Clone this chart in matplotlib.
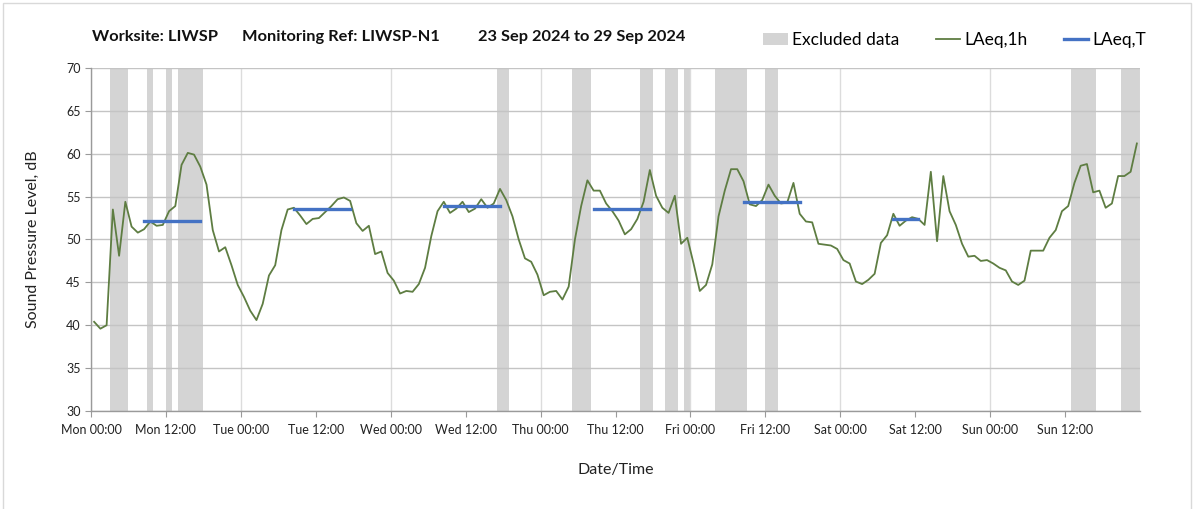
import numpy as np
import matplotlib
matplotlib.use('Agg')
import matplotlib.pyplot as plt
from matplotlib.patches import Patch, Rectangle
from matplotlib.lines import Line2D

plt.rcParams['font.family'] = ['Lato', 'DejaVu Sans']

# 시간별 LAeq,1h (월 00:00 부터 168 시간)
laeq_1h = [
    # Mon
    40.4, 39.6, 40.0, 53.5, 48.1, 54.4, 51.5, 50.8, 51.2, 52.1, 51.6, 51.7,
    53.3, 53.9, 58.7, 60.1, 59.9, 58.5, 56.4, 51.1, 48.6, 49.1, 47.0, 44.7,
    # Tue
    43.3, 41.7, 40.6, 42.5, 45.8, 47.0, 51.1, 53.5, 53.7, 52.8, 51.8, 52.4,
    52.5, 53.2, 53.9, 54.7, 54.9, 54.5, 51.9, 51.0, 51.6, 48.3, 48.6, 46.1,
    # Wed
    45.2, 43.7, 44.0, 43.9, 44.8, 46.7, 50.4, 53.3, 54.4, 53.1, 53.6, 54.4,
    53.2, 53.6, 54.7, 53.7, 54.2, 55.9, 54.6, 52.7, 50.0, 47.8, 47.4, 45.9,
    # Thu
    43.5, 43.9, 44.0, 43.0, 44.5, 50.0, 53.9, 56.9, 55.7, 55.7, 54.2, 53.3,
    52.2, 50.6, 51.2, 52.4, 54.4, 58.1, 55.1, 53.7, 53.1, 55.1, 49.5, 50.2,
    # Fri
    47.2, 44.0, 44.7, 47.1, 52.7, 55.7, 58.2, 58.2, 56.8, 54.1, 53.9, 54.6,
    56.4, 55.1, 54.2, 54.3, 56.6, 53.0, 52.1, 52.0, 49.5, 49.4, 49.3, 48.9,
    # Sat
    47.6, 47.2, 45.1, 44.8, 45.3, 46.0, 49.6, 50.5, 53.0, 51.6, 52.2, 52.6,
    52.4, 51.7, 57.9, 49.8, 57.4, 53.3, 51.7, 49.5, 48.0, 48.1, 47.5, 47.6,
    # Sun
    47.2, 46.7, 46.4, 45.1, 44.7, 45.2, 48.7, 48.7, 48.7, 50.2, 51.1, 53.3,
    53.9, 56.6, 58.6, 58.8, 55.5, 55.7, 53.7, 54.2, 57.4, 57.4, 57.9, 61.2,
]

# LAeq,T (주간 구간: 시작 시간, 끝 시간, 값)
laeq_t_start = [8, 32, 56, 80, 104, 128]
laeq_t_end = [17, 41, 65, 89, 113, 132]
laeq_t_value = [52.2, 53.5, 53.9, 53.5, 54.4, 52.4]

# 제외 구간 (시작 시간, 끝 시간)
excl_start = [3, 9, 12, 14, 65, 77, 88, 92, 95, 100, 108, 157, 165]
excl_end = [6, 10, 13, 18, 67, 80, 90, 94, 96, 105, 110, 161, 168]

days = ['Mon', 'Tue', 'Wed', 'Thu', 'Fri', 'Sat', 'Sun']
tick_labels = [f'{d} {t}' for d in days for t in ['00:00', '12:00']]

title_parts = ['Worksite: LIWSP', 'Monitoring Ref: LIWSP-N1', '23 Sep 2024 to 29 Sep 2024']

hours = np.arange(len(laeq_1h)) + 0.5

green = '#5e7d42'
blue = '#4472c4'
grey_band = '#d4d4d4'

fig = plt.figure(figsize=(12.03, 5.09), dpi=100)
ax = fig.add_axes([91/1203, 1 - 411/509, (1140 - 91)/1203, (411 - 68)/509])

# 제외 구간
for s, e in zip(excl_start, excl_end):
    ax.axvspan(s, e, color=grey_band, lw=0, zorder=0.2)

ax.plot(hours, laeq_1h, color=green, lw=1.3, zorder=3)

for s, e, v in zip(laeq_t_start, laeq_t_end, laeq_t_value):
    ax.plot([s + 0.5, e + 0.5], [v, v], color=blue, lw=2.4, zorder=4)

ax.set_xlim(0, 168)
ax.set_ylim(30, 70)
ax.set_yticks(np.arange(30, 71, 5))
ax.set_xticks(np.arange(0, 168, 12))
ax.set_xticklabels(tick_labels)
ax.set_axisbelow(True)

# 격자
ax.yaxis.grid(True, color='#c4c4c4', lw=1.0)
for x in range(0, 169, 24):
    ax.axvline(x, color='#dcdcdc', lw=1.0, zorder=0.5)

for side in ['top', 'right']:
    ax.spines[side].set_visible(False)
for side in ['left', 'bottom']:
    ax.spines[side].set_color('#9a9a9a')
    ax.spines[side].set_linewidth(1.0)

ax.tick_params(axis='both', direction='out', length=4, color='#9a9a9a',
               labelsize=9, labelcolor='#222222')
ax.tick_params(axis='x', pad=5)

ax.set_ylabel('Sound Pressure Level, dB', fontsize=11.5, color='#222222', labelpad=19)
ax.set_xlabel('Date/Time', fontsize=11.5, color='#222222', labelpad=20)

# 제목 (세 부분)
for px, txt in zip([92, 242, 478], title_parts):
    fig.text(px/1203, 1 - 37/509, txt, fontsize=11.8, fontweight='bold',
             ha='left', va='center', color='#111111')

handles = [Patch(facecolor=grey_band, edgecolor='none', label='Excluded data'),
           Line2D([], [], color=green, lw=1.3, label='LAeq,1h'),
           Line2D([], [], color=blue, lw=2.4, label='LAeq,T')]
fig.legend(handles=handles, loc='center right', bbox_to_anchor=(1162/1203, 1 - 40/509),
           ncol=3, frameon=False, fontsize=12.5, handlelength=1.4, handletextpad=0.25,
           columnspacing=2.1)

# 차트 외곽선
fig.add_artist(Rectangle((3/1203, -0.05), (1191 - 3)/1203, 1.05 - 3/509,
                         transform=fig.transFigure, fill=False,
                         edgecolor='#d9d9d9', lw=1.0))

fig.savefig('out.png', dpi=100)
